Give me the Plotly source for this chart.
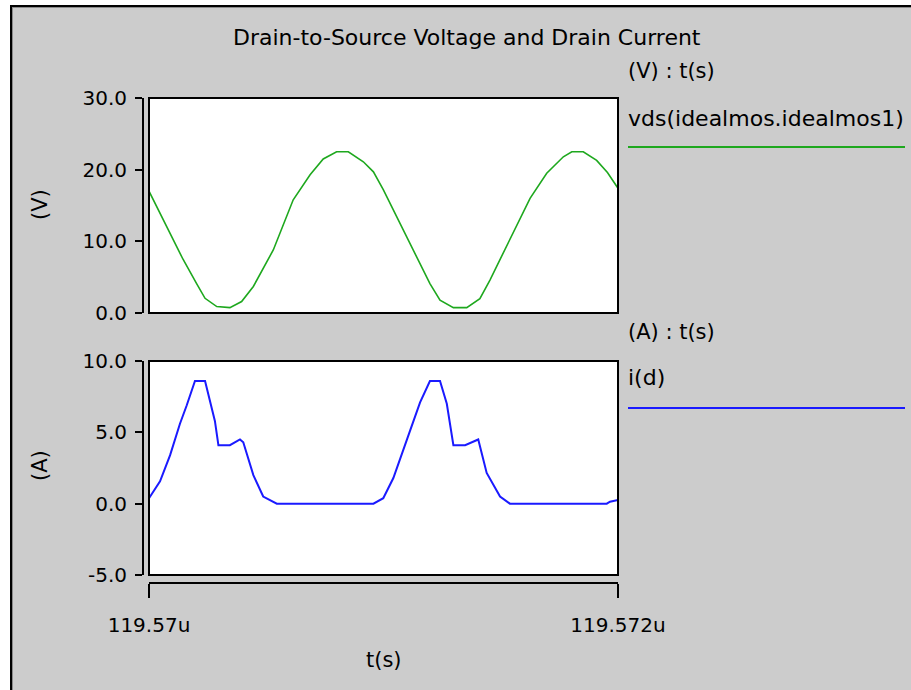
import plotly.graph_objects as go

# ---------------- data ----------------
T0_US = 119.570  # start time (us)
T1_US = 119.572  # end time (us)

# time offsets (ps from 119.570 us) and drain-to-source voltage (V)
vds_t_ps = [0, 45, 90, 145, 203, 239, 289, 345, 395, 445, 530, 615, 687, 743, 800, 850,
            914, 957, 999, 1070, 1142, 1198, 1241, 1298, 1355, 1411, 1454, 1539, 1625,
            1696, 1767, 1803, 1852, 1909, 1955, 2000]
vds_v = [17.0, 14.0, 11.1, 7.5, 4.1, 2.05, 0.9, 0.75, 1.6, 3.7, 8.8, 15.8, 19.3, 21.5, 22.5, 22.5,
         21.1, 19.7, 17.2, 12.5, 7.9, 4.1, 1.8, 0.75, 0.75, 2.0, 4.6, 10.2, 16.0,
         19.5, 21.8, 22.5, 22.5, 21.3, 19.6, 17.4]

# time offsets (ps) and drain current (A)
id_t_ps = [0, 47, 90, 132, 161, 182, 196, 239, 281, 296, 345, 388, 402, 445, 487, 545,
           957, 999, 1042, 1113, 1156, 1198, 1241, 1270, 1298, 1348, 1404, 1440, 1497, 1539,
           1952, 1966, 2000]
id_a = [0.38, 1.56, 3.4, 5.6, 6.9, 8.0, 8.6, 8.6, 5.8, 4.1, 4.1, 4.5, 4.3, 2.0, 0.5, 0.0,
        0.0, 0.38, 1.8, 5.1, 7.1, 8.6, 8.6, 7.0, 4.1, 4.1, 4.5, 2.15, 0.5, 0.0,
        0.0, 0.14, 0.26]

v_ticks = [0, 10, 20, 30]
v_ticktext = ["0.0", "10.0", "20.0", "30.0"]
a_ticks = [-5, 0, 5, 10]
a_ticktext = ["-5.0", "0.0", "5.0", "10.0"]
x_ticktext = ["119.57u", "119.572u"]

title_text = "Drain-to-Source Voltage and Drain Current"
legend_v_head = "(V) : t(s)"
legend_v_name = "vds(idealmos.idealmos1)"
legend_a_head = "(A) : t(s)"
legend_a_name = "i(d)"

# ---------------- geometry helpers ----------------
W, H = 911, 690
def px(x):
    return x / W
def py(y):
    return 1 - y / H

t0 = T0_US * 1e-6
t1 = T1_US * 1e-6
vds_t = [t0 + p * 1e-12 for p in vds_t_ps]
id_t = [t0 + p * 1e-12 for p in id_t_ps]

FONT = "DejaVu Sans"
GREEN = "#1ea81e"
BLUE = "#1a1aff"
BG = "#cccccc"

fig = go.Figure()
fig.add_trace(go.Scatter(x=vds_t, y=vds_v, mode="lines", xaxis="x", yaxis="y",
                         line=dict(color=GREEN, width=1.6), showlegend=False, hoverinfo="skip"))
fig.add_trace(go.Scatter(x=id_t, y=id_a, mode="lines", xaxis="x2", yaxis="y2",
                         line=dict(color=BLUE, width=2), showlegend=False, hoverinfo="skip"))

tickfont = dict(family=FONT, size=20, color="black")
yax_common = dict(anchor="free", position=px(143), showline=True, linecolor="black", linewidth=2,
                  ticks="outside", ticklen=7, tickwidth=2, tickcolor="black",
                  showgrid=False, zeroline=False, tickfont=tickfont, ticklabelstandoff=4,
                  fixedrange=True, automargin=False)

fig.update_layout(
    template="none",
    width=W, height=H,
    margin=dict(l=0, r=0, t=0, b=0, pad=0),
    paper_bgcolor=BG, plot_bgcolor="white",
    showlegend=False,
    xaxis=dict(domain=[px(149), px(618)], range=[t0, t1], visible=False, anchor="y",
               automargin=False),
    yaxis=dict(domain=[py(313), py(98)], range=[0, 30], tickvals=v_ticks, ticktext=v_ticktext,
               **yax_common),
    xaxis2=dict(domain=[px(149), px(618)], range=[t0, t1], anchor="free", position=py(583),
                showline=True, linecolor="black", linewidth=2, ticks="outside", ticklen=14,
                tickwidth=2, tickcolor="black", showgrid=False, zeroline=False,
                tickvals=[t0, t1], ticktext=x_ticktext, tickfont=tickfont, ticklabelstandoff=10,
                automargin=False),
    yaxis2=dict(domain=[py(575), py(361)], range=[-5, 10], tickvals=a_ticks, ticktext=a_ticktext,
                **yax_common),
)

shapes = []
# white outer margins and window border
shapes.append(dict(type="rect", xref="paper", yref="paper", x0=0, x1=px(10), y0=0, y1=1,
                   fillcolor="white", line=dict(width=0), layer="above"))
shapes.append(dict(type="rect", xref="paper", yref="paper", x0=0, x1=1, y0=py(5), y1=1,
                   fillcolor="white", line=dict(width=0), layer="above"))
shapes.append(dict(type="line", xref="paper", yref="paper", x0=px(11), x1=px(11), y0=0, y1=py(5),
                   line=dict(color="black", width=2), layer="above"))
shapes.append(dict(type="line", xref="paper", yref="paper", x0=px(10), x1=1, y0=py(6), y1=py(6),
                   line=dict(color="black", width=2), layer="above"))
shapes.append(dict(type="line", xref="paper", yref="paper", x0=px(12.5), x1=px(12.5), y0=0, y1=py(7),
                   line=dict(color="#8a8a8a", width=1), layer="above"))
shapes.append(dict(type="line", xref="paper", yref="paper", x0=px(12), x1=1, y0=py(7.5), y1=py(7.5),
                   line=dict(color="#8a8a8a", width=1), layer="above"))
# plot frames
for xr, yr in (("x", "y"), ("x2", "y2")):
    shapes.append(dict(type="rect", xref=xr + " domain", yref=yr + " domain", x0=0, x1=1, y0=0, y1=1,
                       line=dict(color="black", width=2), layer="above"))
# legend sample lines
shapes.append(dict(type="line", xref="paper", yref="paper", x0=px(628), x1=px(905),
                   y0=py(147), y1=py(147), line=dict(color=GREEN, width=2)))
shapes.append(dict(type="line", xref="paper", yref="paper", x0=px(628), x1=px(905),
                   y0=py(408), y1=py(408), line=dict(color=BLUE, width=2)))
fig.update_layout(shapes=shapes)

ann = []
def add_text(text, x, y, xanchor="left", angle=0, size=22):
    ann.append(dict(text=text, xref="paper", yref="paper", x=px(x), y=py(y), xanchor=xanchor,
                    yanchor="middle", showarrow=False, textangle=angle,
                    font=dict(family=FONT, size=size, color="black")))

add_text(title_text, 467, 38, "center", size=22)
add_text(legend_v_head, 626, 71, size=21)
add_text(legend_v_name, 626, 118, size=22)
add_text(legend_a_head, 626, 332, size=21)
add_text(legend_a_name, 626, 378, size=22)
add_text("(V)", 40, 205, "center", -90, size=21)
add_text("(A)", 40, 466, "center", -90, size=21)
add_text("t(s)", 384, 660, "center", size=21)
fig.update_layout(annotations=ann)

fig.write_html("out.html")
